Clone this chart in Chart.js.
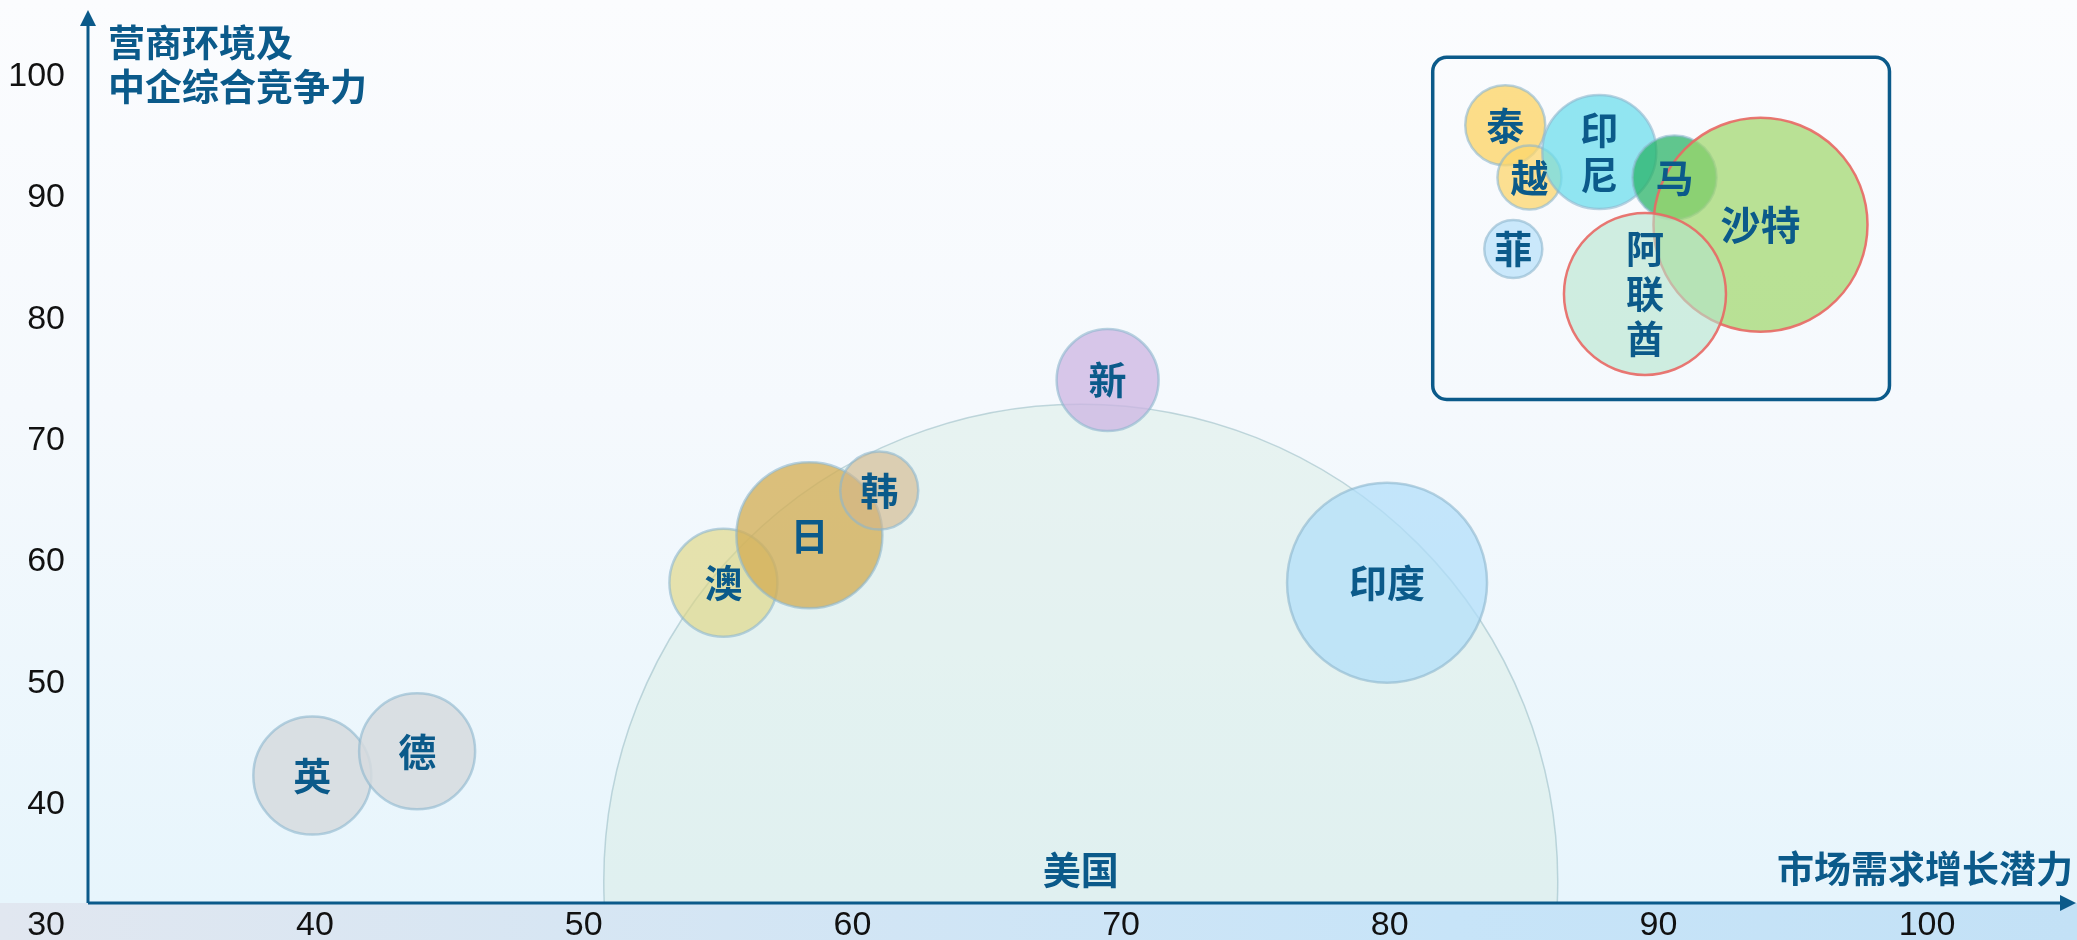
<!DOCTYPE html>
<html lang="zh">
<head>
<meta charset="utf-8">
<title>营商环境及中企综合竞争力 / 市场需求增长潜力</title>
<script src="https://cdn.jsdelivr.net/npm/chart.js@4"></script>
<style>
  html, body { margin: 0; padding: 0; background: #fff; }
  canvas { display: block; }
</style>
</head>
<body>
<canvas id="chartBolhas" width="2077" height="940"></canvas>
<script>
// valores (x = 市场需求增长潜力, y = 营商环境及中企综合竞争力)
const countries = ['美国', '英', '德', '澳', '日', '韩', '新', '印度', '泰', '越', '印尼', '马', '沙特', '阿联酋', '菲'];
const marketGrowth = [68.5, 39.9, 43.8, 55.2, 58.4, 61.0, 69.5, 79.9, 84.3, 85.2, 87.8, 90.6, 93.8, 89.5, 84.6];
const competitiveness = [33.7, 42.4, 44.4, 58.3, 62.2, 65.9, 75.0, 58.3, 96.0, 91.7, 93.8, 91.7, 87.8, 82.1, 85.8];
const bubbleSize = [477, 59, 58, 54, 73, 39, 51, 100, 40, 32, 57, 42, 107, 81, 29];
const xTicks = [40, 50, 60, 70, 80, 90, 100];
const yTicks = [30, 40, 50, 60, 70, 80, 90, 100];

const AZUL = '#0b5a8a';

// cores de cada bolha
const fillColors = {
    '美国': 'rgba(214,236,226,0.45)',
    '英': 'rgba(214,218,222,0.85)',
    '德': 'rgba(214,218,222,0.85)',
    '澳': 'rgba(222,214,130,0.65)',
    '日': 'rgba(212,174,86,0.78)',
    '韩': 'rgba(212,182,136,0.6)',
    '新': 'rgba(204,180,226,0.75)',
    '印度': 'rgba(176,222,250,0.72)',
    '泰': 'rgba(252,214,108,0.8)',
    '越': 'rgba(252,214,108,0.75)',
    '印尼': 'rgba(110,222,236,0.75)',
    '马': 'rgba(36,178,98,0.72)',
    '沙特': 'rgba(158,214,104,0.7)',
    '阿联酋': 'rgba(180,228,205,0.6)',
    '菲': 'rgba(184,224,250,0.72)'
};
const redBorder = ['沙特', '阿联酋'];
const verticalLabels = ['印尼', '阿联酋'];

// caixa do destaque (em unidades dos eixos)
const insetBox = { xMin: 81.6, xMax: 98.6, yMin: 73.4, yMax: 101.6 };

const points = countries.map((c, i) => ({ x: marketGrowth[i], y: competitiveness[i], r: bubbleSize[i] }));

// 1. fundo em degradê
const fundoPlugin = {
    id: 'fundo',
    beforeDraw(chart) {
        const { ctx, width, height, chartArea } = chart;
        ctx.save();
        const g = ctx.createLinearGradient(0, 0, 0, chartArea.bottom);
        g.addColorStop(0, '#fbfcfe');
        g.addColorStop(0.45, '#f5f9fd');
        g.addColorStop(1, '#e7f5fc');
        ctx.fillStyle = g;
        ctx.fillRect(0, 0, width, chartArea.bottom);
        const g2 = ctx.createLinearGradient(0, 0, width, 0);
        g2.addColorStop(0, '#e1e7f0');
        g2.addColorStop(0.7, '#c7e4f8');
        g2.addColorStop(1, '#c3e1f6');
        ctx.fillStyle = g2;
        ctx.fillRect(0, chartArea.bottom, width, height - chartArea.bottom);
        ctx.restore();
    }
};

// 2. eixos com setas, títulos, caixa e rótulos das bolhas
const decoracaoPlugin = {
    id: 'decoracao',
    afterDatasetsDraw(chart) {
        const { ctx, chartArea, scales } = chart;
        ctx.save();

        // caixa arredondada
        const bx = scales.x.getPixelForValue(insetBox.xMin);
        const bx2 = scales.x.getPixelForValue(insetBox.xMax);
        const by = scales.y.getPixelForValue(insetBox.yMax);
        const by2 = scales.y.getPixelForValue(insetBox.yMin);
        ctx.strokeStyle = AZUL;
        ctx.lineWidth = 3.5;
        ctx.beginPath();
        ctx.roundRect(bx, by, bx2 - bx, by2 - by, 14);
        ctx.stroke();

        // rótulos
        ctx.fillStyle = AZUL;
        ctx.textAlign = 'center';
        ctx.textBaseline = 'middle';
        chart.data.datasets.forEach((ds, di) => {
            const meta = chart.getDatasetMeta(di);
            meta.data.forEach((el, i) => {
                const name = ds.names[i];
                const size = name === '沙特' ? 40 : 38;
                ctx.font = 'bold ' + size + 'px "Noto Sans CJK SC", sans-serif';
                const lines = verticalLabels.includes(name) ? name.split('') : [name];
                const lh = 45;
                let y0 = el.y - (lines.length - 1) * lh / 2;
                if (name === '美国') y0 = chart.chartArea.bottom - 33;
                lines.forEach((t, k) => ctx.fillText(t, el.x, y0 + k * lh));
            });
        });

        // eixos
        ctx.strokeStyle = AZUL;
        ctx.fillStyle = AZUL;
        ctx.lineWidth = 3;
        ctx.beginPath();
        ctx.moveTo(chartArea.left, chartArea.bottom);
        ctx.lineTo(chartArea.left, chartArea.top + 12);
        ctx.moveTo(chartArea.left, chartArea.bottom);
        ctx.lineTo(chartArea.right - 12, chartArea.bottom);
        ctx.stroke();
        ctx.beginPath();
        ctx.moveTo(chartArea.left, chartArea.top);
        ctx.lineTo(chartArea.left - 8, chartArea.top + 16);
        ctx.lineTo(chartArea.left + 8, chartArea.top + 16);
        ctx.closePath();
        ctx.fill();
        ctx.beginPath();
        ctx.moveTo(chartArea.right - 1, chartArea.bottom);
        ctx.lineTo(chartArea.right - 17, chartArea.bottom - 8);
        ctx.lineTo(chartArea.right - 17, chartArea.bottom + 8);
        ctx.closePath();
        ctx.fill();

        // títulos dos eixos
        ctx.font = 'bold 37px "Noto Sans CJK SC", sans-serif';
        ctx.textAlign = 'left';
        ctx.fillText('营商环境及', chartArea.left + 20, 43);
        ctx.fillText('中企综合竞争力', chartArea.left + 20, 87);
        ctx.textAlign = 'right';
        ctx.fillText('市场需求增长潜力', chartArea.right - 4, chartArea.bottom - 34);
        ctx.restore();
    }
};

const tickFont = { family: '"Liberation Sans", Arial, sans-serif', size: 34 };

new Chart(document.getElementById('chartBolhas'), {
    type: 'bubble',
    data: {
        datasets: [{
            label: '中企',
            names: countries.slice(1),
            data: points.slice(1),
            backgroundColor: countries.slice(1).map(c => fillColors[c]),
            borderColor: countries.slice(1).map(c => redBorder.includes(c) ? 'rgba(232,104,100,0.9)' : 'rgba(140,182,205,0.6)'),
            borderWidth: 2.5,
            order: 1
        }, {
            label: '美国',
            names: countries.slice(0, 1),
            data: points.slice(0, 1),
            backgroundColor: fillColors['美国'],
            borderColor: 'rgba(150,185,195,0.55)',
            borderWidth: 1.5,
            clip: 0,
            order: 2
        }]
    },
    options: {
        responsive: false,
        animation: false,
        devicePixelRatio: 1,
        layout: { autoPadding: false, padding: { top: 10, right: 0, left: 0, bottom: 0 } },
        plugins: { legend: { display: false }, tooltip: { enabled: false } },
        scales: {
            x: {
                type: 'linear',
                min: 31.55,
                max: 105.58,
                grid: { display: false },
                border: { display: false },
                ticks: { padding: -6, autoSkip: false, maxRotation: 0, color: '#111', font: tickFont },
                afterBuildTicks: s => { s.ticks = xTicks.map(v => ({ value: v })); },
                afterFit: s => { s.height = 37; s.paddingLeft = 0; s.paddingRight = 0; }
            },
            y: {
                type: 'linear',
                min: 31.9,
                max: 105.5,
                grid: { display: false },
                border: { display: false },
                ticks: { padding: 15, autoSkip: false, color: '#111', font: tickFont },
                afterBuildTicks: s => { s.ticks = yTicks.map(v => ({ value: v })); },
                afterFit: s => { s.width = 88; s.paddingTop = 0; s.paddingBottom = 0; }
            }
        }
    },
    plugins: [fundoPlugin, decoracaoPlugin]
});
</script>
</body>
</html>
